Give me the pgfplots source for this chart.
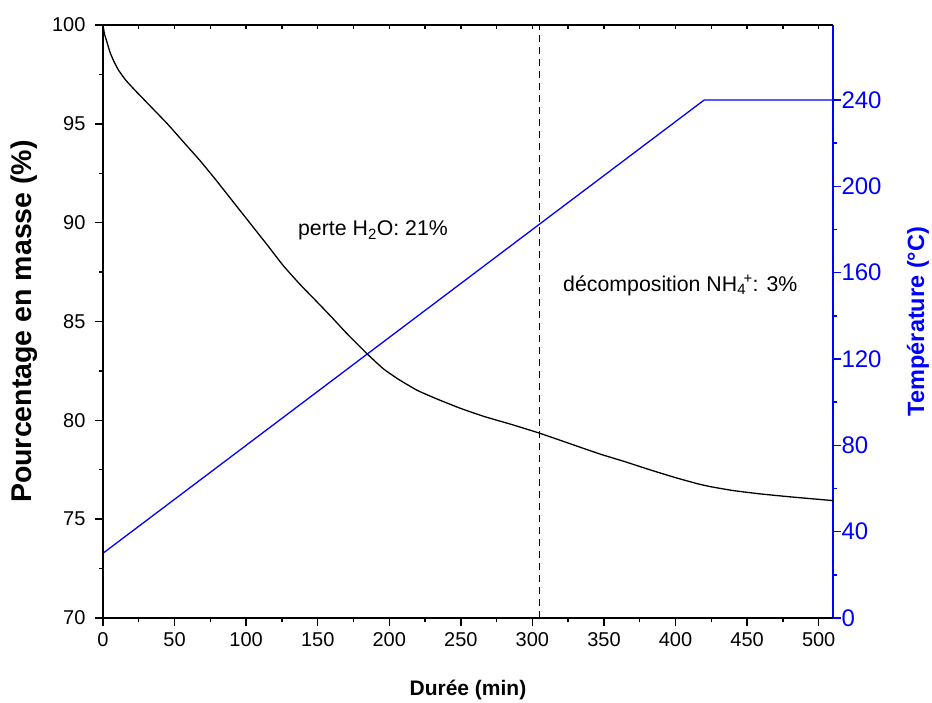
\documentclass[border=0pt]{standalone}
\usepackage{fontspec}
\setmainfont{Liberation Sans}
\usepackage{pgfplots}
\pgfplotsset{compat=1.18}
\pgfplotsset{
  common/.style={
    scale only axis, width=730pt, height=593pt, xmin=0, xmax=510,
    /pgf/number format/assume math mode=true,
    tick label style={font=\fontsize{20}{24}\selectfont},
    label style={font=\bfseries\fontsize{21}{25}\selectfont},
    major tick length=8pt, minor tick length=4pt,
    axis line style={line width=1.8pt},
  }
}
\begin{document}
\begin{tikzpicture}
\useasboundingbox (-103pt,-84pt) rectangle (829pt,618pt);
% top axis with inward ticks
\begin{axis}[common, ymin=0, ymax=1, axis x line*=top, axis y line=none,
  tick align=inside, xtick={0,25,...,500}, xticklabels={}, major tick length=4pt,
  every tick/.style={black, line width=1.4pt}]
\end{axis}
% right axis: temperature
\begin{axis}[common, ymin=0, ymax=274.75, axis y line*=right, axis x line=none,
  tick align=outside, ytick={0,40,...,240}, minor y tick num=1,
  axis line style={blue, line width=1.8pt},
  every tick/.style={blue, line width=1.4pt},
  yticklabel style={blue, font=\fontsize{24}{28}\selectfont, xshift=-3pt},
  ylabel={Température (°C)},
  ylabel style={blue, font=\bfseries\fontsize{23.5}{28}\selectfont, at={(axis description cs:1.1164,0.5)}, anchor=center, rotate=0}]
\addplot[blue, line width=1.3pt] coordinates {(0,30) (420,240) (510,240)};
\end{axis}
% main axis: mass
\begin{axis}[common, ymin=70, ymax=100, axis x line*=bottom, axis y line*=left,
  tick align=outside, xtick={0,50,...,500}, minor x tick num=1,
  ytick={70,75,...,100}, minor y tick num=1,
  every tick/.style={black, line width=1.4pt},
  yticklabel style={xshift=-6pt},
  xticklabel style={yshift=-3pt},
  xlabel={Durée (min)}, ylabel={Pourcentage en masse (\%)},
  xlabel style={at={(axis description cs:0.5,-0.122)}, anchor=center},
  ylabel style={font=\bfseries\fontsize{28.5}{32}\selectfont, at={(axis description cs:-0.1085,0.5)}, anchor=center}]
\addplot[black, line width=1.3pt, smooth, tension=0.3] coordinates {
(0,100) (1,99.55) (2.5,99.2) (5,98.6) (8,98.1) (11,97.7) (16,97.2) (23,96.65)
(33,95.9) (45,95.0) (56,94.1) (68,93.12) (79,92.15) (91,91.05) (103,89.95)
(115,88.85) (126,87.82) (138,86.85) (149,86.03) (160,85.2) (170,84.42) (184,83.4)
(196,82.6) (207,82.05) (220,81.5) (235,81.03) (250,80.6) (266,80.2) (285,79.8)
(305,79.35) (325,78.85) (347,78.3) (365,77.9) (382,77.5) (400,77.1) (415,76.8)
(424,76.65) (440,76.45) (459,76.28) (480,76.13) (510,75.94)};
\addplot[black, line width=1.2pt, dash pattern=on 7pt off 5pt] coordinates {(305,70) (305,100)};
\node[anchor=base west, font=\fontsize{21.3}{25}\selectfont, inner sep=0pt] at (axis cs:136.2,89.33) {perte H\textsubscript{2}O: 21\%};
\node[anchor=base west, font=\fontsize{21.3}{25}\selectfont, inner sep=0pt] at (axis cs:321.4,86.52) {décomposition NH\textsubscript{4}\kern-0.12em\textsuperscript{+}: 3\%};
\end{axis}
\end{tikzpicture}
\end{document}
